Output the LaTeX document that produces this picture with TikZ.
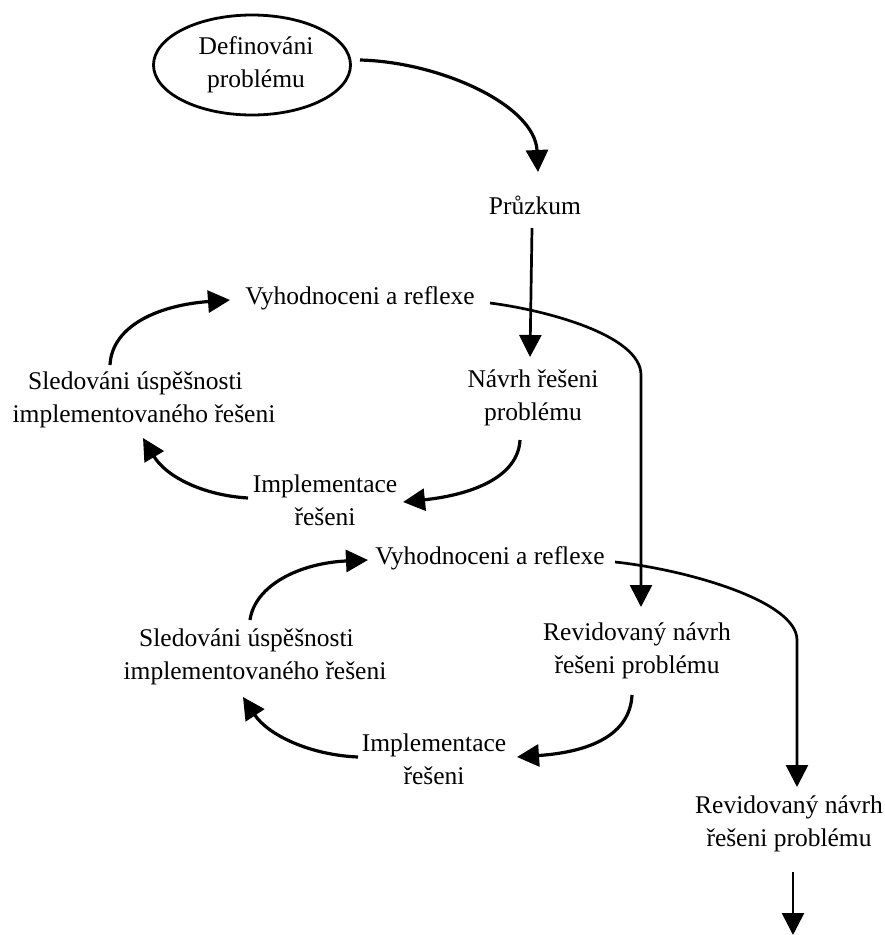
\documentclass[tikz,border=0pt]{standalone}
\usepackage{fontspec}
\setmainfont{Liberation Serif}
\usetikzlibrary{arrows.meta,calc,shapes.geometric}
\begin{document}
\begin{tikzpicture}[x=1pt,y=-1pt,
  lbl/.style={inner sep=0pt, align=center, font=\fontsize{25.5}{33}\selectfont},
  arr/.style={line width=3.2pt, -{Triangle[length=22pt,width=22pt]}},
  flow/.style={line width=2.7pt, -{Triangle[length=22pt,width=22pt]}}]
\useasboundingbox (0,0) rectangle (885,935);

% nodes
\node[lbl, draw, ellipse, line width=2.8pt, minimum width=197pt, minimum height=100pt] (def) at (252,65) {};
\node[lbl] (deft) at (256,65) {Definováni\\problému};
\node[lbl] (pr) at (535,205) {Průzkum};
\node[lbl] (v1) at (360,298) {Vyhodnoceni a reflexe};
\node[lbl] (sl1) at (144,400) {Sledováni úspěšnosti\hspace*{17pt}\\implementovaného řešeni};
\node[lbl] (na) at (533,398) {Návrh řešeni\\problému};
\node[lbl] (im1) at (325,500) {Implementace\\řešeni};
\node[lbl] (v2) at (490,558) {Vyhodnoceni a reflexe};
\node[lbl] (sl2) at (255,657) {Sledováni úspěšnosti\hspace*{17pt}\\implementovaného řešeni};
\node[lbl] (re1) at (637,651) {Revidovaný návrh\\řešeni problému};
\node[lbl] (im2) at (434,759) {Implementace\\řešeni};
\node[lbl] (re2) at (789,824) {Revidovaný návrh\\řešeni problému};
\coordinate (end) at (793,935);

% connectors
\draw[arr] ($(def.center)+(108,-5)$) .. controls (440,62) and (535,105) .. ($(pr.center)+(3,-33)$);
\draw[flow] ($(pr.center)+(-3,23)$) -- ($(na.center)+(-3,-41)$);
\draw[flow] ($(v1.center)+(130,5)$) .. controls (545,310) and (641,335) .. (641,375) -- ($(re1.center)+(4,-44)$);
\draw[arr] ($(na.center)+(-13,42)$) .. controls (518,478) and (470,495) .. ($(im1.center)+(78,2)$);
\draw[arr] ($(im1.center)+(-77,-2)$) .. controls (200,495) and (165,475) .. ($(sl1.center)+(-1,38)$);
\draw[arr] ($(sl1.center)+(-34,-35)$) .. controls (112,325) and (160,305) .. ($(v1.center)+(-130,2)$);

\draw[flow] ($(v2.center)+(125,4)$) .. controls (682,569) and (797,600) .. (797,640) -- ($(re2.center)+(8,-37)$);
\draw[arr] ($(re1.center)+(-5,44)$) .. controls (630,735) and (590,752) .. ($(im2.center)+(83,-2)$);
\draw[arr] ($(im2.center)+(-76,-2)$) .. controls (310,755) and (268,735) .. ($(sl2.center)+(-12,40)$);
\draw[arr] ($(sl2.center)+(-5,-37)$) .. controls (255,585) and (300,563) .. ($(v2.center)+(-122,2)$);
\draw[flow] ($(re2.center)+(4,48)$) -- (end);
\end{tikzpicture}
\end{document}
